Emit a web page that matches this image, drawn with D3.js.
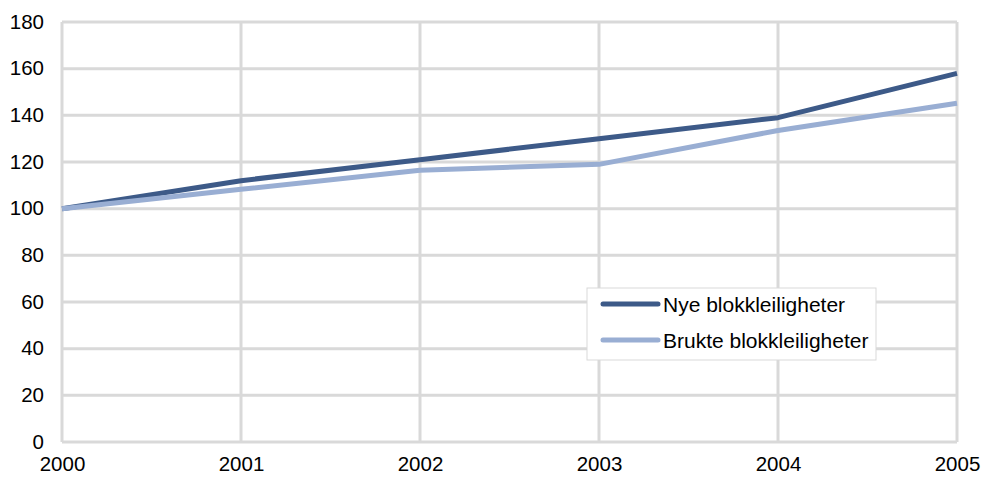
<!DOCTYPE html>
<html>
<head>
<meta charset="utf-8">
<script src="https://cdn.jsdelivr.net/npm/d3@7"></script>
<style>
  html, body { margin: 0; padding: 0; background: #fff; }
  svg { display: block; font-family: "Liberation Sans", Arial, sans-serif; }
</style>
</head>
<body>
<svg id="chart" width="981" height="477"></svg>
<script>
const years = [2000, 2001, 2002, 2003, 2004, 2005];
const nyeValues = [100, 112, 121, 130, 139, 158];
const brukteValues = [100, 108.3, 116.5, 119, 133.5, 145.2];
const seriesNames = ["Nye blokkleiligheter", "Brukte blokkleiligheter"];
const seriesColors = ["#3d5a88", "#99aed3"];
const yTicks = [0, 20, 40, 60, 80, 100, 120, 140, 160, 180];

const svg = d3.select("#chart");
const margin = { left: 62, right: 24, top: 22, bottom: 35 };
const W = 981, H = 477;
const fontSize = 20.5;
const legendFontSize = 21;

const x = d3.scaleLinear().domain([2000, 2005]).range([margin.left, W - margin.right]);
const y = d3.scaleLinear().domain([0, 180]).range([H - margin.bottom, margin.top]);

const grid = svg.append("g");
grid.selectAll("line.h").data(yTicks).join("line")
  .attr("x1", x(2000)).attr("x2", x(2005))
  .attr("y1", d => y(d)).attr("y2", d => y(d))
  .attr("stroke", "#d9d9d9").attr("stroke-width", 3);
grid.selectAll("line.v").data(years).join("line")
  .attr("x1", d => x(d)).attr("x2", d => x(d))
  .attr("y1", y(0)).attr("y2", y(180))
  .attr("stroke", "#d9d9d9").attr("stroke-width", 3);

// Y axis labels
const yAxis = d3.axisLeft(y).tickValues(yTicks).tickSize(0).tickPadding(18);
const yg = svg.append("g").attr("transform", `translate(${margin.left},0)`).call(yAxis);
yg.select(".domain").remove();
yg.selectAll("text").attr("font-size", fontSize).attr("fill", "#000")
  .attr("font-family", "Liberation Sans, Arial, sans-serif").attr("dy", "0.3em");

// X axis labels
const xAxis = d3.axisBottom(x).tickValues(years).tickFormat(d3.format("d")).tickSize(0).tickPadding(14);
const xg = svg.append("g").attr("transform", `translate(0,${y(0)})`).call(xAxis);
xg.select(".domain").remove();
xg.selectAll("text").attr("font-size", fontSize).attr("fill", "#000")
  .attr("font-family", "Liberation Sans, Arial, sans-serif");

const line = d3.line().x((d, i) => x(years[i])).y(d => y(d));
[nyeValues, brukteValues].forEach((vals, k) => {
  svg.append("path").datum(vals)
    .attr("d", line)
    .attr("fill", "none")
    .attr("stroke", seriesColors[k])
    .attr("stroke-width", 5)
    .attr("stroke-linejoin", "round");
});

// Legend
const lg = svg.append("g").attr("transform", "translate(587,288)");
lg.append("rect").attr("width", 289).attr("height", 72)
  .attr("fill", "#fff").attr("stroke", "#d9d9d9").attr("stroke-width", 1);
seriesNames.forEach((name, k) => {
  const cy = 16 + k * 36;
  lg.append("line").attr("x1", 16).attr("x2", 71).attr("y1", cy).attr("y2", cy)
    .attr("stroke", seriesColors[k]).attr("stroke-width", 5).attr("stroke-linecap", "round");
  lg.append("text").attr("x", 76).attr("y", cy).attr("dy", "0.36em")
    .attr("font-size", legendFontSize).attr("fill", "#000").text(name);
});
</script>
</body>
</html>
